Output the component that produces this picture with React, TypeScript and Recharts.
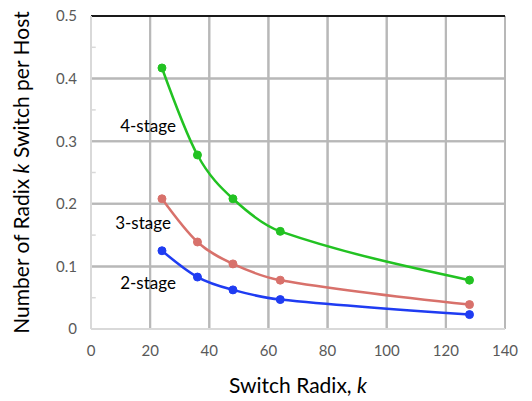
import React from "react";
import { LineChart, Line, XAxis, YAxis, ReferenceLine, ReferenceDot, Label, CartesianGrid } from "recharts";

const radix = [24, 36, 48, 64, 128];
const stage4 = [0.417, 0.278, 0.208, 0.156, 0.078];
const stage3 = [0.208, 0.139, 0.104, 0.078, 0.039];
const stage2 = [0.125, 0.083, 0.0625, 0.047, 0.023];
const xTicks = [0, 20, 40, 60, 80, 100, 120, 140];
const yTicks = [0, 0.1, 0.2, 0.3, 0.4, 0.5];
const yMinorTicks = [0.05, 0.15, 0.25, 0.35, 0.45];
const seriesLabels = ["4-stage", "3-stage", "2-stage"];

const data = radix.map((k, i) => ({ k, s4: stage4[i], s3: stage3[i], s2: stage2[i] }));

const FONT = "Lato, 'Open Sans', sans-serif";

// Smooth line through the points (Hermite with finite-difference tangents), d3-compatible curve factory
function smoothCurve(context: any) {
  let pts: number[][] = [];
  return {
    areaStart() {},
    areaEnd() {},
    lineStart() {
      pts = [];
    },
    point(x: number, y: number) {
      pts.push([+x, +y]);
    },
    lineEnd() {
      const n = pts.length;
      if (!n) return;
      context.moveTo(pts[0][0], pts[0][1]);
      if (n === 1) return;
      if (n === 2) {
        context.lineTo(pts[1][0], pts[1][1]);
        return;
      }
      const m: number[] = new Array(n);
      for (let i = 1; i < n - 1; i++) {
        m[i] = (pts[i + 1][1] - pts[i - 1][1]) / (pts[i + 1][0] - pts[i - 1][0]);
      }
      const s0 = (pts[1][1] - pts[0][1]) / (pts[1][0] - pts[0][0]);
      const sn = (pts[n - 1][1] - pts[n - 2][1]) / (pts[n - 1][0] - pts[n - 2][0]);
      m[0] = (3 * s0 - m[1]) / 2;
      m[n - 1] = (3 * sn - m[n - 2]) / 2;
      for (let i = 0; i < n - 1; i++) {
        const p1 = pts[i];
        const p2 = pts[i + 1];
        const h = (p2[0] - p1[0]) / 3;
        context.bezierCurveTo(p1[0] + h, p1[1] + m[i] * h, p2[0] - h, p2[1] - m[i + 1] * h, p2[0], p2[1]);
      }
    },
  };
}

const GRID = "#b8b8b8";

export default function App() {
  const labelPos = [
    { x: 19.3, y: 0.324 },
    { x: 17.6, y: 0.169 },
    { x: 19.3, y: 0.073 },
  ];
  return (
    <div style={{ position: "absolute", left: 0, top: 0, width: 532, height: 401, background: "#fff" }}>
      <LineChart width={532} height={401} data={data} margin={{ top: 16, right: 27, bottom: 0, left: 0 }}>
        <CartesianGrid stroke={GRID} strokeWidth={2} strokeOpacity={1} />
        <XAxis
          dataKey="k"
          type="number"
          domain={[0, 140]}
          ticks={xTicks}
          height={72}
          tickSize={0}
          tickMargin={16}
          axisLine={{ stroke: "#d9d9d9", strokeWidth: 2 }}
          tick={{ fill: "#595959", fontSize: 15, fontFamily: FONT }}
        >
          <Label
            content={(props: any) => {
              const vb = props.viewBox;
              const cx = vb.x + vb.width / 2;
              return (
                <text x={cx} y={393} textAnchor="middle" fontSize={21} fontFamily={FONT} fill="#000">
                  Switch Radix, <tspan fontStyle="italic">k</tspan>
                </text>
              );
            }}
          />
        </XAxis>
        <YAxis
          type="number"
          domain={[0, 0.5]}
          ticks={yTicks}
          width={91}
          tickSize={0}
          tickMargin={14}
          axisLine={{ stroke: "#d9d9d9", strokeWidth: 2 }}
          tick={{ fill: "#595959", fontSize: 15, fontFamily: FONT }}
          tickFormatter={(v: number) => (v === 0 ? "0" : String(v))}
        >
          <Label
            content={(props: any) => {
              const vb = props.viewBox;
              const cy = vb.y + vb.height / 2;
              return (
                <text
                  x={29}
                  y={cy}
                  transform={`rotate(-90, 29, ${cy})`}
                  textAnchor="middle"
                  fontSize={21}
                  fontFamily={FONT}
                  fill="#000"
                >
                  Number of Radix <tspan fontStyle="italic">k</tspan> Switch per Host
                </text>
              );
            }}
          />
        </YAxis>
        <ReferenceLine x={20} stroke={GRID} strokeWidth={2} strokeOpacity={1} />
        <ReferenceLine x={40} stroke={GRID} strokeWidth={2} strokeOpacity={1} />
        <ReferenceLine x={60} stroke={GRID} strokeWidth={2} strokeOpacity={1} />
        <ReferenceLine x={80} stroke={GRID} strokeWidth={2} strokeOpacity={1} />
        <ReferenceLine x={100} stroke={GRID} strokeWidth={2} strokeOpacity={1} />
        <ReferenceLine x={120} stroke={GRID} strokeWidth={2} strokeOpacity={1} />
        <ReferenceLine x={140} stroke={GRID} strokeWidth={2} strokeOpacity={1} />
        <ReferenceLine y={0.1} stroke={GRID} strokeWidth={2} strokeOpacity={1} />
        <ReferenceLine y={0.2} stroke={GRID} strokeWidth={2} strokeOpacity={1} />
        <ReferenceLine y={0.3} stroke={GRID} strokeWidth={2} strokeOpacity={1} />
        <ReferenceLine y={0.4} stroke={GRID} strokeWidth={2} strokeOpacity={1} />
        {yMinorTicks.map((t) => (
          <ReferenceLine key={"my" + t} segment={[{ x: 0, y: t }, { x: 1.6, y: t }]} stroke="#d9d9d9" strokeWidth={1.5} />
        ))}
        <ReferenceLine y={0.5} stroke="#1a1a1a" strokeWidth={2} />
        <Line type={smoothCurve as any} dataKey="s4" stroke="#22c222" strokeWidth={2.5} dot={{ r: 4, fill: "#22c222", stroke: "#22c222", strokeWidth: 1 }} isAnimationActive={false} />
        <Line type={smoothCurve as any} dataKey="s3" stroke="#d8716b" strokeWidth={2.5} dot={{ r: 4, fill: "#d8716b", stroke: "#d8716b", strokeWidth: 1 }} isAnimationActive={false} />
        <Line type={smoothCurve as any} dataKey="s2" stroke="#1f3cf2" strokeWidth={2.5} dot={{ r: 4, fill: "#1f3cf2", stroke: "#1f3cf2", strokeWidth: 1 }} isAnimationActive={false} />
        {seriesLabels.map((t, i) => (
          <ReferenceDot
            key={t}
            x={labelPos[i].x}
            y={labelPos[i].y}
            r={0}
            stroke="none"
            fill="none"
            label={{ value: t, position: "center", fontSize: 17, fontFamily: FONT, fill: "#000" }}
          />
        ))}
      </LineChart>
    </div>
  );
}
